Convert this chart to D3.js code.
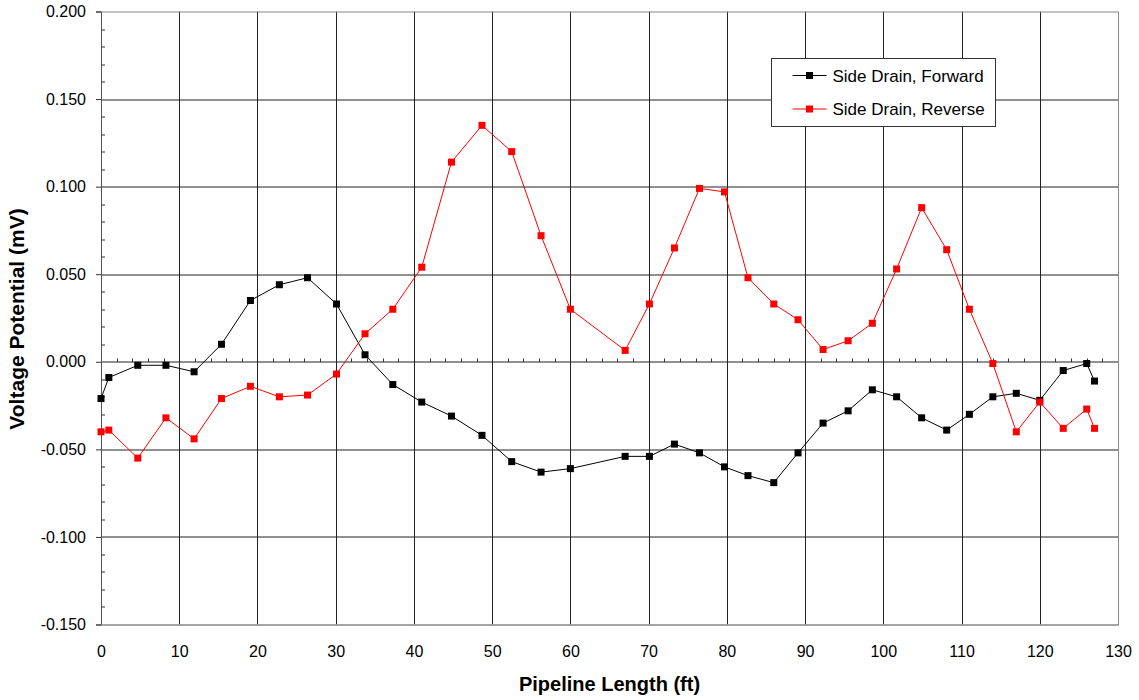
<!DOCTYPE html>
<html>
<head>
<meta charset="utf-8">
<script src="https://cdn.jsdelivr.net/npm/d3@7"></script>
<style>
  body { margin: 0; background: #fff; }
  text { font-family: "Liberation Sans", Arial, sans-serif; }
</style>
</head>
<body>
<div id="chart"></div>
<script>
// pipeline positions (ft), shared by both runs
var lengths = [0, 1, 4.7, 8.3, 11.9, 15.4, 19.1, 22.8, 26.4, 30.1, 33.75, 37.3, 41.0, 44.8, 48.7,
  52.5, 56.25, 60.0, 67.0, 70.1, 73.3, 76.5, 79.7, 82.7, 86.0, 89.1, 92.3, 95.5, 98.6, 101.7,
  104.9, 108.1, 111.0, 114.0, 117.0, 120.0, 123.0, 126.0, 127.0];

var forward = [-0.021, -0.009, -0.002, -0.002, -0.0057, 0.010, 0.035, 0.044, 0.048, 0.033,
  0.004, -0.013, -0.023, -0.031, -0.042, -0.057, -0.063, -0.061, -0.054, -0.054, -0.047,
  -0.052, -0.060, -0.065, -0.069, -0.052, -0.035, -0.028, -0.016, -0.020, -0.032, -0.039,
  -0.030, -0.020, -0.018, -0.022, -0.005, -0.001, -0.011];

var reverse = [-0.040, -0.039, -0.055, -0.032, -0.044, -0.021, -0.014, -0.020, -0.019, -0.007,
  0.016, 0.030, 0.054, 0.114, 0.135, 0.120, 0.072, 0.030, 0.0065, 0.033, 0.065, 0.099,
  0.097, 0.048, 0.033, 0.024, 0.007, 0.012, 0.022, 0.053, 0.088, 0.064, 0.030, -0.001,
  -0.040, -0.023, -0.038, -0.027, -0.038];

var seriesNames = ["Side Drain, Forward", "Side Drain, Reverse"];
var seriesColors = ["#000000", "#ff0000"];
var xTicks = d3.range(0, 131, 10);
var yTicks = [-0.15, -0.1, -0.05, 0, 0.05, 0.1, 0.15, 0.2];

var svgWidth = 1139, svgHeight = 700;
var margin = { top: 11.5, right: 21, bottom: 75.5, left: 101 };
var width = svgWidth - margin.left - margin.right;
var height = svgHeight - margin.top - margin.bottom;

var svg = d3.select("#chart").append("svg")
  .attr("width", svgWidth)
  .attr("height", svgHeight);

var chartGroup = svg.append("g")
  .attr("transform", `translate(${margin.left}, ${margin.top})`);

var x = d3.scaleLinear().domain([0, 130]).range([0, width]);
var y = d3.scaleLinear().domain([-0.15, 0.2]).range([height, 0]);

// gridlines
chartGroup.append("g").selectAll("line")
  .data(xTicks.slice(1, -1))
  .enter().append("line")
  .attr("x1", d => Math.round(x(d)) + 0.5).attr("x2", d => Math.round(x(d)) + 0.5)
  .attr("y1", 0).attr("y2", height)
  .attr("stroke", "#222").attr("stroke-width", 1);

chartGroup.append("g").selectAll("line")
  .data(yTicks.slice(1, -1))
  .enter().append("line")
  .attr("x1", 0).attr("x2", width)
  .attr("y1", d => Math.round(y(d)) + 0.5).attr("y2", d => Math.round(y(d)) + 0.5)
  .attr("stroke", "#222").attr("stroke-width", 1);

// plot frame
chartGroup.append("rect")
  .attr("x", 0.5).attr("y", 0.5)
  .attr("width", Math.round(width)).attr("height", Math.round(height))
  .attr("fill", "none").attr("stroke", "#888");

// left axis: major ticks outside, minor ticks inside
var leftAxis = d3.axisLeft(y).tickValues(yTicks).tickFormat(d => d.toFixed(3)).tickSize(5).tickPadding(10);
var yAxisG = chartGroup.append("g").call(leftAxis);
yAxisG.select(".domain").attr("stroke", "#555");
yAxisG.selectAll(".tick line").attr("stroke", "#333");
yAxisG.selectAll("text").attr("font-size", 16).attr("fill", "#000")
  .attr("font-family", "Liberation Sans, Arial, sans-serif");

var yMinor = d3.range(-0.15, 0.2001, 0.01).filter(v => Math.abs(Math.round(v * 100) % 5) !== 0);
chartGroup.append("g").selectAll("line")
  .data(yMinor)
  .enter().append("line")
  .attr("x1", 0).attr("x2", 4)
  .attr("y1", d => Math.round(y(d)) + 0.5).attr("y2", d => Math.round(y(d)) + 0.5)
  .attr("stroke", "#333");

// minor ticks on the zero line
var xMinor = d3.range(0, 131, 2).filter(v => v % 10 !== 0);
chartGroup.append("g").selectAll("line")
  .data(xMinor)
  .enter().append("line")
  .attr("x1", d => Math.round(x(d)) + 0.5).attr("x2", d => Math.round(x(d)) + 0.5)
  .attr("y1", Math.round(y(0)) - 3).attr("y2", Math.round(y(0)) + 0.5)
  .attr("stroke", "#333");

// bottom axis labels
var bottomAxis = d3.axisBottom(x).tickValues(xTicks).tickSize(0).tickPadding(21);
var xAxisG = chartGroup.append("g")
  .attr("transform", `translate(0, ${height})`)
  .call(bottomAxis);
xAxisG.select(".domain").attr("stroke", "#888");
xAxisG.selectAll("text").attr("font-size", 16).attr("fill", "#000")
  .attr("font-family", "Liberation Sans, Arial, sans-serif");

// series
var seriesData = [forward, reverse];
var line = d3.line().x(d => x(d[0])).y(d => y(d[1]));

seriesData.forEach(function(vals, i) {
  var pts = lengths.map((l, j) => [l, vals[j]]);
  chartGroup.append("path")
    .datum(pts)
    .attr("d", line)
    .attr("fill", "none")
    .attr("stroke", seriesColors[i])
    .attr("stroke-width", 1);
  chartGroup.append("g").selectAll("rect")
    .data(pts)
    .enter().append("rect")
    .attr("x", d => x(d[0]) - 3.5)
    .attr("y", d => y(d[1]) - 3.5)
    .attr("width", 7).attr("height", 7)
    .attr("fill", seriesColors[i]);
});

// legend
var legend = svg.append("g").attr("transform", "translate(771.5, 58.5)");
legend.append("rect")
  .attr("width", 224).attr("height", 68)
  .attr("fill", "#fff").attr("stroke", "#333");
seriesNames.forEach(function(name, i) {
  var ly = 17 + i * 33.5;
  legend.append("line")
    .attr("x1", 21).attr("x2", 55).attr("y1", ly).attr("y2", ly)
    .attr("stroke", seriesColors[i]);
  legend.append("rect")
    .attr("x", 34.5).attr("y", ly - 3.5).attr("width", 7).attr("height", 7)
    .attr("fill", seriesColors[i]);
  legend.append("text")
    .attr("x", 61).attr("y", ly + 6)
    .attr("font-size", 17)
    .text(name);
});

// axis titles
svg.append("text")
  .attr("transform", "translate(24, 319) rotate(-90)")
  .attr("text-anchor", "middle")
  .attr("font-size", 21).attr("font-weight", "bold")
  .text("Voltage Potential (mV)");

svg.append("text")
  .attr("x", margin.left + width / 2).attr("y", 691)
  .attr("text-anchor", "middle")
  .attr("font-size", 20).attr("font-weight", "bold")
  .text("Pipeline Length (ft)");
</script>
</body>
</html>
